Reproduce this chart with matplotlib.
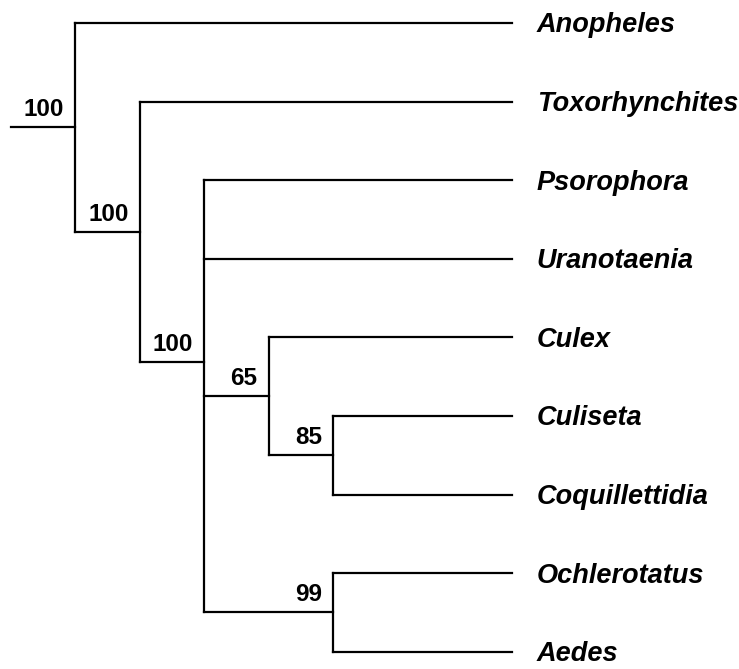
import matplotlib
matplotlib.use("Agg")
import matplotlib.pyplot as plt

plt.rcParams['font.family'] = ['Liberation Sans', 'DejaVu Sans']

# tips, top to bottom
taxa = ["Anopheles", "Toxorhynchites", "Psorophora", "Uranotaenia", "Culex",
        "Culiseta", "Coquillettidia", "Ochlerotatus", "Aedes"]

# clades as nested lists of tip indices, with bootstrap support
clade_85 = [5, 6]
clade_99 = [7, 8]
clade_65 = [4, clade_85]
clade_3 = [2, 3, clade_65, clade_99]
clade_2 = [1, clade_3]
tree = [0, clade_2]

support = {id(tree): 100, id(clade_2): 100, id(clade_3): 100,
           id(clade_65): 65, id(clade_85): 85, id(clade_99): 99}

TIP_X = 7.77     # where the aligned tip branches end
MAX_X = 6

LW = 1.6
FS_TIP = 19.5
FS_BOOT = 17.5


def height(node):
    if isinstance(node, int):
        return 0
    return 1 + max(height(c) for c in node)


def node_y(node):
    if isinstance(node, int):
        return node
    return sum(node_y(c) for c in node) / len(node)


def line(ax, xs, ys):
    ax.plot(xs, ys, color='black', lw=LW, solid_capstyle='projecting')


def draw(ax, node):
    x = MAX_X - height(node)
    y = node_y(node)
    ys = [node_y(c) for c in node]
    line(ax, [x, x], [min(ys), max(ys)])
    for c in node:
        cy = node_y(c)
        if isinstance(c, int):
            line(ax, [x, TIP_X], [cy, cy])
            ax.annotate(taxa[c], (TIP_X, cy), xytext=(18, -6.8),
                        textcoords='offset points', ha='left', va='baseline',
                        fontsize=FS_TIP, fontweight='bold', fontstyle='italic')
        else:
            cx = MAX_X - height(c)
            line(ax, [x, cx], [cy, cy])
            draw(ax, c)
    if id(node) in support:
        ax.annotate(str(support[id(node)]), (x, y), xytext=(-8, 8),
                    textcoords='offset points', ha='right', va='baseline',
                    fontsize=FS_BOOT, fontweight='bold')


fig = plt.figure(figsize=(7.39, 6.69), dpi=100)
ax = fig.add_axes([0, 0, 1, 1])

# root stem
root_x = MAX_X - height(tree)
line(ax, [root_x - 1, root_x], [node_y(tree), node_y(tree)])
draw(ax, tree)

ax.set_xlim(-0.171, 11.30)
ax.set_ylim(8.22, -0.293)
ax.axis('off')

fig.savefig("out.png", dpi=100, facecolor='white')
